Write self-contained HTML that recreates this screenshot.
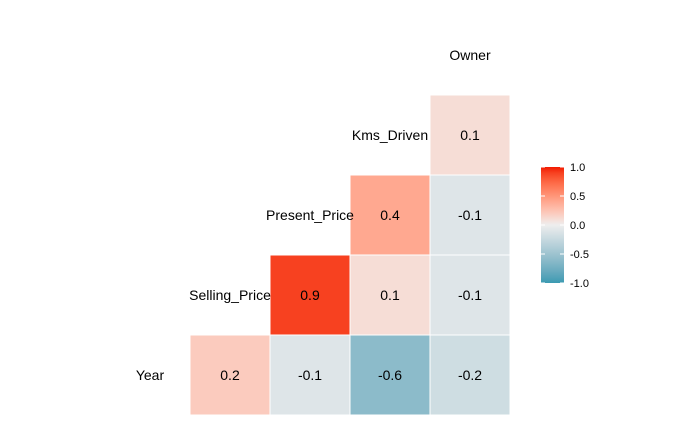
<!DOCTYPE html>
<html><head><meta charset="utf-8"><style>
body{margin:0;background:#fff;}
svg{display:block;font-family:"Liberation Sans",Arial,sans-serif;}
</style></head><body>
<svg id="c" width="700" height="432"></svg>
<script>
const vars = ["Year","Selling_Price","Present_Price","Kms_Driven","Owner"];
const rowIdx = [0,0,0,0,1,1,1,2,2,3];
const colIdx = [1,2,3,4,2,3,4,3,4,4];
const values = [0.2,-0.1,-0.6,-0.2,0.9,0.1,-0.1,0.4,-0.1,0.1];
const legendTicks = [1.0,0.5,0.0,-0.5,-1.0];
const legendLabels = ["1.0","0.5","0.0","-0.5","-1.0"];

const NS="http://www.w3.org/2000/svg";
const svg=document.getElementById('c');
const cell=80, x0=110, yBottom=415;
const xPos = i => x0 + i*cell;
const yPos = r => yBottom - (r+1)*cell;

function s2l(c){c/=255;return c<=0.04045?c/12.92:Math.pow((c+0.055)/1.055,2.4);}
function l2s(c){c=c<=0.0031308?12.92*c:1.055*Math.pow(c,1/2.4)-0.055;return Math.max(0,Math.min(255,Math.round(c*255)));}
function toLab(rgb){const [r,g,b]=rgb.map(s2l);
 let X=(0.4124*r+0.3576*g+0.1805*b)/0.95047,Y=0.2126*r+0.7152*g+0.0722*b,Z=(0.0193*r+0.1192*g+0.9505*b)/1.08883;
 const f=t=>t>0.008856?Math.cbrt(t):7.787*t+16/116;X=f(X);Y=f(Y);Z=f(Z);
 return [116*Y-16,500*(X-Y),200*(Y-Z)];}
function fromLab(l){let Y=(l[0]+16)/116,X=l[1]/500+Y,Z=Y-l[2]/200;
 const fi=t=>t*t*t>0.008856?t*t*t:(t-16/116)/7.787;X=fi(X)*0.95047;Y=fi(Y);Z=fi(Z)*1.08883;
 const r=3.2406*X-1.5372*Y-0.4986*Z,g=-0.9689*X+1.8758*Y+0.0415*Z,b=0.0557*X-0.2040*Y+1.0570*Z;
 return [l2s(r),l2s(g),l2s(b)];}
const low=toLab([59,154,178]), mid=toLab([238,238,238]), high=toLab([242,26,0]);
function color(v){const a=v>=0?high:low,t=Math.abs(v);const l=mid.map((m,k)=>m+(a[k]-m)*t);const c=fromLab(l);return `rgb(${c[0]},${c[1]},${c[2]})`;}
function el(tag,attrs,txt){const e=document.createElementNS(NS,tag);for(const k in attrs)e.setAttribute(k,attrs[k]);if(txt!==undefined)e.textContent=txt;svg.appendChild(e);return e;}

values.forEach((v,i)=>{
  const r=rowIdx[i], c=colIdx[i];
  const rect=el('rect',{x:xPos(c),y:yPos(r),width:cell,height:cell,fill:color(v),stroke:'#fff','stroke-width':1});
  
  
  const t=el('text',{x:xPos(c)+cell/2,y:yPos(r)+cell/2+5,'text-anchor':'middle','font-size':14,fill:'#000'},v.toFixed(1));
  
  
});
vars.forEach((name,i)=>{
  const t=el('text',{x:xPos(i)+cell/2,y:yPos(i)+cell/2+5,'text-anchor':'middle','font-size':14,fill:'#000'},name);
  
  
});

const lx=541, lw=23, lTop=167, lBot=283;
const ly = v => lTop + (1-v)/2*(lBot-lTop);
const defs=el('defs',{});
const g=document.createElementNS(NS,'linearGradient');
g.setAttribute('id','lg');g.setAttribute('x1','0');g.setAttribute('y1','0');g.setAttribute('x2','0');g.setAttribute('y2','1');
defs.appendChild(g);
for(let k=0;k<=20;k++){const v=1-k/10;const s=document.createElementNS(NS,'stop');s.setAttribute('offset',(k/20));s.setAttribute('stop-color',color(v));g.appendChild(s);}
const bar=el('rect',{x:lx,y:lTop,width:lw,height:lBot-lTop,fill:'url(#lg)'});


legendTicks.forEach((v,i)=>{
  const y=ly(v);
  el('line',{x1:lx,x2:lx+4,y1:y,y2:y,stroke:'#fff','stroke-width':1});
  el('line',{x1:lx+lw-4,x2:lx+lw,y1:y,y2:y,stroke:'#fff','stroke-width':1});
  const t=el('text',{x:570,y:y+4,'font-size':11,fill:'#000'},legendLabels[i]);
  
  
});
</script>
</body></html>
